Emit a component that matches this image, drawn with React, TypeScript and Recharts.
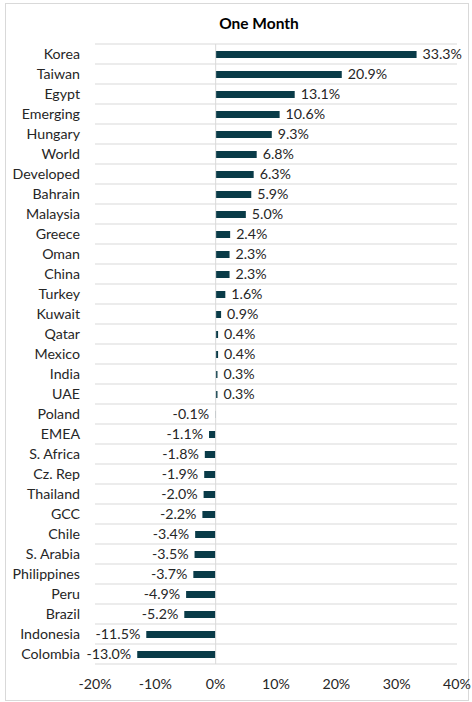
import React from "react";
import { BarChart, Bar, XAxis, YAxis, CartesianGrid, ReferenceLine, LabelList } from "recharts";

const categories = ["Korea","Taiwan","Egypt","Emerging","Hungary","World","Developed","Bahrain","Malaysia","Greece","Oman","China","Turkey","Kuwait","Qatar","Mexico","India","UAE","Poland","EMEA","S. Africa","Cz. Rep","Thailand","GCC","Chile","S. Arabia","Philippines","Peru","Brazil","Indonesia","Colombia"];
const values = [33.3,20.9,13.1,10.6,9.3,6.8,6.3,5.9,5.0,2.4,2.3,2.3,1.6,0.9,0.4,0.4,0.3,0.3,-0.1,-1.1,-1.8,-1.9,-2.0,-2.2,-3.4,-3.5,-3.7,-4.9,-5.2,-11.5,-13.0];
const xTicks = [-20,-10,0,10,20,30,40];
const title = "One Month";

const data = categories.map((name, i) => ({ name, value: values[i] }));

const FONT = "Lato, 'Open Sans', sans-serif";
const FS = 14.2;
const BAR = "#093b48";

const renderLabel = (props: any) => {
  const { x, y, width, height, value } = props;
  const left = Math.min(x, x + width);
  const right = Math.max(x, x + width);
  const neg = value < 0;
  return (
    <text
      x={neg ? left - 6 : right + 6}
      y={y + height / 2}
      dy="0.35em"
      textAnchor={neg ? "end" : "start"}
      fontFamily={FONT}
      fontSize={FS}
      fill="#262626"
    >
      {value.toFixed(1) + "%"}
    </text>
  );
};

export default function App() {
  return (
    <div style={{ position: "absolute", left: 0, top: 0, width: 472, height: 702, background: "#fff" }}>
      <div style={{ position: "absolute", left: 5, top: 3, width: 462, height: 696, border: "1px solid #d9d9d9" }} />
      <div style={{ position: "absolute", left: 0, top: 14, width: 518, textAlign: "center", fontFamily: FONT, fontWeight: 700, fontSize: 15.5, color: "#000" }}>
        {title}
      </div>
      <div style={{ position: "absolute", left: 0, top: 0 }}>
        <BarChart
          width={472}
          height={702}
          data={data}
          layout="vertical"
          margin={{ top: 44, right: 15, bottom: 8, left: 0 }}
          barCategoryGap={0}
        >
          <CartesianGrid
            vertical={false}
            stroke="#d9d9d9"
            horizontalCoordinatesGenerator={(p: any) => {
              const off = p.offset;
              const n = data.length;
              return Array.from({ length: n + 1 }, (_, i) => off.top + (i * off.height) / n);
            }}
          />
          <XAxis
            type="number"
            domain={[-20, 40]}
            ticks={xTicks}
            tickFormatter={(v: number) => `${v}%`}
            axisLine={false}
            tickLine={false}
            height={30}
            tickMargin={9}
            tick={{ fontFamily: FONT, fontSize: FS, fill: "#262626" }}
            interval={0}
          />
          <YAxis
            type="category"
            dataKey="name"
            width={95}
            axisLine={false}
            tickLine={false}
            tickMargin={9}
            interval={0}
            tick={{ fontFamily: FONT, fontSize: FS, fill: "#262626" }}
          />
          <ReferenceLine x={0} stroke="#d9d9d9" />
          <Bar dataKey="value" fill={BAR} barSize={7} isAnimationActive={false}>
            <LabelList dataKey="value" content={renderLabel} />
          </Bar>
        </BarChart>
      </div>
    </div>
  );
}
